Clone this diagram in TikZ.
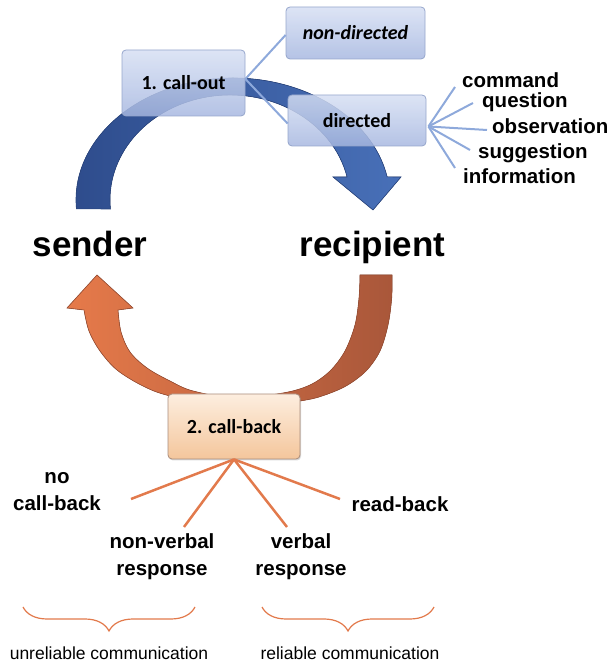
\documentclass[tikz,border=0pt]{standalone}
\usepackage{fontspec}
\setmainfont{Liberation Sans}
\newfontfamily\carl{Carlito}
\usetikzlibrary{decorations.pathreplacing,calc,shadows}
\definecolor{bbtop}{HTML}{D6DFF3}
\definecolor{bbbot}{HTML}{A6B7E0}
\definecolor{bbdraw}{HTML}{96A6CC}
\definecolor{obtop}{HTML}{FDEEDF}
\definecolor{obbot}{HTML}{F4C69C}
\definecolor{obdraw}{HTML}{A88C7C}
\definecolor{lblue}{HTML}{8EA9DB}
\definecolor{lorange}{HTML}{E27A4C}
\definecolor{arrbL}{HTML}{2E4C8C}
\definecolor{arrbR}{HTML}{4870B8}
\definecolor{arrbE}{HTML}{29457F}
\definecolor{arroL}{HTML}{E67A4A}
\definecolor{arroR}{HTML}{A9573A}
\definecolor{arroE}{HTML}{9A4E33}
\begin{document}
\begin{tikzpicture}[x=1pt,y=1pt,
  bluebox/.style={draw=bbdraw, line width=0.8pt, rounded corners=4pt,
    top color=bbtop, bottom color=bbbot, fill opacity=0.84, text opacity=1,
    font=\carl\bfseries\fontsize{20}{24}\selectfont, inner sep=0pt},
  orangebox/.style={draw=obdraw, line width=0.8pt, rounded corners=4pt,
    top color=obtop, bottom color=obbot,
    drop shadow={shadow xshift=1pt, shadow yshift=-1.5pt, opacity=0.3},
    font=\carl\bfseries\fontsize{20}{24}\selectfont, inner sep=0pt},
  big/.style={font=\bfseries\fontsize{35}{40}\selectfont, inner sep=0pt},
  item/.style={font=\bfseries\fontsize{20.5}{27}\selectfont, align=center, inner sep=0pt},
  note/.style={font=\fontsize{17.5}{20}\selectfont, inner sep=0pt},
  bline/.style={draw=lblue, line width=2pt},
  oline/.style={draw=lorange, line width=2.5pt},
  obrace/.style={draw=lorange, line width=1.2pt, decorate,
    decoration={brace, amplitude=24pt, aspect=0.5}}
]
\useasboundingbox (0,0) rectangle (609,663);

% blue curved arrow (call-out)
\fill[left color=arrbL, right color=arrbR, draw=arrbE, line width=0.6pt]
  (233,463) ++(184.2:157 and 122)
  arc[start angle=184.2, end angle=10.9, x radius=157, y radius=122]
  -- (401,486) -- (373,453) -- (333,486)
  -- ($(230,463)+(12.65:120 and 105)$)
  arc[start angle=12.65, end angle=184.9, x radius=120, y radius=105]
  -- cycle;

% orange curved arrow (call-back)
\fill[left color=arroL, right color=arroR, draw=arroE, line width=0.6pt]
  plot[smooth, tension=0.55] coordinates {(392,388) (391.7,365) (388,338) (380,312) (366,292) (346,277) (322,267) (300,262) (236,253) (170,267) (143,277) (117,293) (100,312) (89,332) (84,353)}
  -- (67,355) -- (97,388) -- (133,355)
  -- plot[smooth, tension=0.55] coordinates {(118,353) (121,331) (130,311) (147,295) (170,282) (193,272) (236,265) (283,270) (310,278) (330,292) (345,312) (355,338) (359,365) (360,388)}
  -- cycle;

% boxes
\node[bluebox, minimum width=123pt, minimum height=66pt] (callout) at (183.5,580) {1. call-out};
\node[bluebox, minimum width=139pt, minimum height=52pt] (nondir) at (355.5,630) {\itshape non-directed};
\node[bluebox, minimum width=138pt, minimum height=51pt] (dir) at (357,542.5) {directed};
\node[orangebox, minimum width=132pt, minimum height=65pt] (callback) at (234,236.5) {2. call-back};

% call-out branches
\draw[bline] ([yshift=4pt]callout.east) -- ([yshift=-2pt]nondir.west);
\draw[bline] ([yshift=4pt]callout.east) -- ([yshift=-3pt]dir.west);

% main labels
\node[big, anchor=base] (sender) at (90,406) {sender};
\node[big, anchor=base] (recipient) at (372.5,406) {recipient};

% directed kinds
\node[item, anchor=base west] (command) at (462,575) {command};
\node[item, anchor=base west] (question) at (482,555) {question};
\node[item, anchor=base west] (observation) at (492,529) {observation};
\node[item, anchor=base west] (suggestion) at (478,504) {suggestion};
\node[item, anchor=base west] (information) at (463,479) {information};
\coordinate (hub) at ([xshift=2pt,yshift=-6pt]dir.east);
\coordinate (e1) at (455,576);
\coordinate (e2) at (473,560);
\coordinate (e3) at (487,533);
\coordinate (e4) at (470,513);
\coordinate (e5) at (455,495);
\foreach \e in {e1,e2,e3,e4,e5} \draw[bline] (hub) -- (\e);

% call-back kinds
\node[item] (nocb) at (57,171.5) {no\\call-back};
\node[item] (nonverbal) at (162,106.5) {non-verbal\\response};
\node[item] (verbal) at (301,106.5) {verbal\\response};
\node[item] (readback) at (400,159) {read-back};
\coordinate (f1) at (131,164);
\coordinate (f2) at (184,136);
\coordinate (f3) at (287,136);
\coordinate (f4) at (340,164);
\foreach \f in {f1,f2,f3,f4} \draw[oline] (callback.south) -- (\f);

% braces
\coordinate (lb1) at (23,56);
\coordinate (lb2) at (195,56);
\coordinate (rb1) at (262,56);
\coordinate (rb2) at (434,56);
\draw[obrace] (lb2) -- (lb1);
\draw[obrace] (rb2) -- (rb1);
\node[note] (unrel) at (109,9.5) {unreliable communication};
\node[note] (rel) at (350,9.5) {reliable communication};
\end{tikzpicture}
\end{document}
